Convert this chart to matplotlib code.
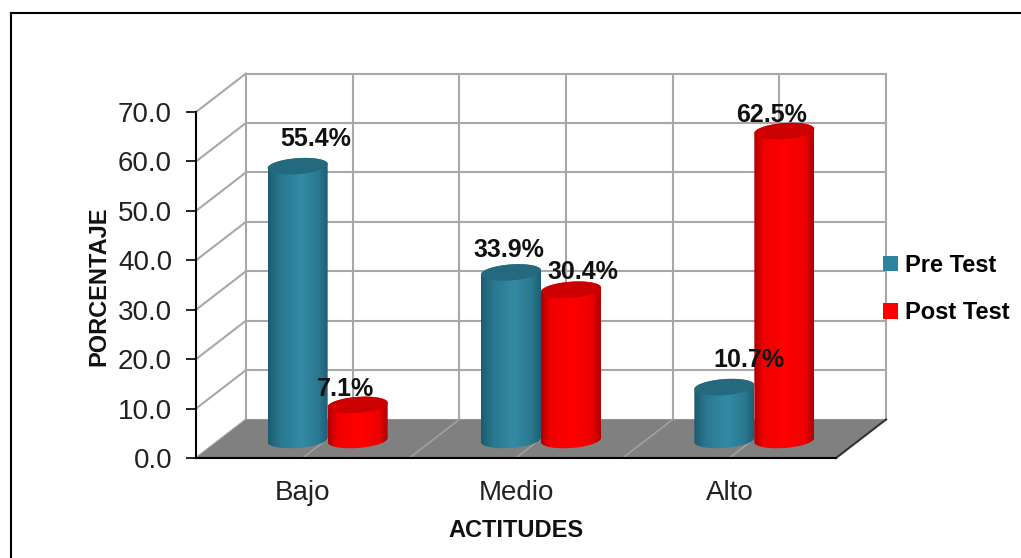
import numpy as np
import matplotlib
matplotlib.use("Agg")
import matplotlib.pyplot as plt
from matplotlib.colors import LinearSegmentedColormap
from matplotlib.lines import Line2D
from matplotlib.patches import Patch, Polygon

# data
categories = ["Bajo", "Medio", "Alto"]
pre_test = [55.4, 33.9, 10.7]
post_test = [7.1, 30.4, 62.5]
y_ticks = [0, 10, 20, 30, 40, 50, 60, 70]
series_names = ["Pre Test", "Post Test"]

plt.rcParams["font.family"] = ["Liberation Sans", "DejaVu Sans"]

W, H = 1021, 558
fig = plt.figure(figsize=(W / 100, H / 100), dpi=100, facecolor="white")

# axes = front plane of the fake 3d box (pixels from the reference)
L, R, T, B = 196, 836, 112, 458
ax = fig.add_axes([L / W, 1 - B / H, (R - L) / W, (B - T) / H])
ax.set_facecolor("none")
ax.set_xlim(0, 3)
ax.set_ylim(0, 70)

# pixel -> data
px_x = 3 / (R - L)
px_y = 70 / (B - T)
depth_x = 50 * px_x
depth_y = 38.5 * px_y

grid_col = "#A8A8A8"

# left wall and back wall
for v in y_ticks:
    ax.plot([0, depth_x], [v, v + depth_y], color=grid_col, lw=1.5, clip_on=False, zorder=1)
    ax.plot([depth_x, 3 + depth_x], [v + depth_y, v + depth_y], color=grid_col, lw=1.5, clip_on=False, zorder=1)
for i in range(7):
    x = i * 0.5 + depth_x
    ax.plot([x, x], [depth_y, 70 + depth_y], color=grid_col, lw=1.5, clip_on=False, zorder=1)

# floor
floor = Polygon([[0, 0], [3, 0], [3 + depth_x, depth_y], [depth_x, depth_y]],
                facecolor="#808080", edgecolor="none", clip_on=False, zorder=2)
ax.add_patch(floor)
for i in range(1, 6):
    x = i * 0.5
    ax.plot([x, x + depth_x], [0, depth_y], color="#A6A6A6", lw=1, clip_on=False, zorder=2)
ax.plot([3, 3 + depth_x], [0, depth_y], color="#333333", lw=1.5, clip_on=False, zorder=2)

teal_cmap = LinearSegmentedColormap.from_list(
    "teal", [(0, "#1C5C72"), (0.2, "#2A7890"), (0.55, "#348AA5"), (0.85, "#2A7890"), (1, "#1D6077")])
red_cmap = LinearSegmentedColormap.from_list(
    "red", [(0, "#B00000"), (0.15, "#F00000"), (0.5, "#FF0000"), (0.85, "#F00000"), (1, "#B00000")])
shade = np.linspace(0, 1, 64).reshape(1, -1)

half_w = 30 * px_x
half_h = 8 * px_y
tilt = 0.07
base_y = (458 - 440) * px_y


def ellipse(cx, cy, t):
    ex = half_w * np.cos(t)
    ey = half_h * np.sin(t) + tilt * (ex / px_x) * px_y
    return cx + ex, cy + ey


def cylinder(cx, value, cmap, top_col, z):
    top_y = base_y + value
    xb, yb = ellipse(cx, base_y, np.linspace(np.pi, 2 * np.pi, 40))
    xt, yt = ellipse(cx, top_y, np.linspace(0, np.pi, 40))
    body = Polygon(np.column_stack([np.r_[xb, xt], np.r_[yb, yt]]), transform=ax.transData,
                   facecolor="none", edgecolor="none")
    im = ax.imshow(shade, cmap=cmap, aspect="auto", zorder=z,
                   extent=[cx - half_w, cx + half_w, base_y - half_h * 2, top_y + half_h * 2])
    im.set_clip_path(body)
    xe, ye = ellipse(cx, top_y, np.linspace(0, 2 * np.pi, 80))
    ax.fill(xe, ye, color=top_col, lw=0, zorder=z + 0.1, clip_on=False)


# label offsets from the top of each cylinder, in pixels
pre_off = [(18, 27), (-2, 22), (25, 27)]
post_off = [(-12, 16), (12, 18), (-13, 16)]

for i, name in enumerate(categories):
    mid = i + 0.5 + depth_x / 2
    cx_pre = mid - 30 * px_x
    cx_post = mid + 30 * px_x
    cylinder(cx_pre, pre_test[i], teal_cmap, "#25697F", 3 + i)
    cylinder(cx_post, post_test[i], red_cmap, "#CC0000", 3.5 + i)
    for cx, val, off in [(cx_pre, pre_test[i], pre_off[i]), (cx_post, post_test[i], post_off[i])]:
        ax.annotate(f"{val:.1f}%", (cx, base_y + val), xytext=(off[0] * 0.72, off[1] * 0.72),
                    textcoords="offset points", ha="center", va="center",
                    fontsize=18, fontweight="bold", color="#111111", zorder=20, annotation_clip=False)

ax.set_xlim(0, 3)
ax.set_ylim(0, 70)

# axes, ticks
for side in ["top", "right"]:
    ax.spines[side].set_visible(False)
for side in ["left", "bottom"]:
    ax.spines[side].set_color("black")
    ax.spines[side].set_linewidth(1.5)
    ax.spines[side].set_zorder(15)

ax.set_yticks(y_ticks)
ax.set_yticklabels([f"{v:.1f}" for v in y_ticks], fontsize=20, color="#222222")
ax.tick_params(axis="y", length=7.2, width=1.2, pad=10)
ax.set_xticks([i + 0.5 for i in range(3)])
ax.set_xticklabels(categories, fontsize=20, color="#222222")
ax.tick_params(axis="x", length=0, pad=16)

ax.set_xlabel("ACTITUDES", fontsize=17, fontweight="bold", color="#111111", labelpad=9)
ax.set_ylabel("PORCENTAJE", fontsize=17, fontweight="bold", color="#111111")
ax.yaxis.set_label_coords((110 - L) / (R - L), (B - 286) / (B - T))

# legend
handles = [Patch(facecolor="#2F829C", edgecolor="none"), Patch(facecolor="#FF0000", edgecolor="none")]
fig.legend(handles, series_names, loc="center left", bbox_to_anchor=(883 / W, 1 - 289 / H),
           frameon=False, borderpad=0, borderaxespad=0,
           prop={"size": 17, "weight": "bold"},
           handlelength=0.64, handleheight=0.64, handletextpad=0.3, labelspacing=1.03)

# outer chart frame
fig.add_artist(Line2D([10.5 / W, 10.5 / W], [0, 1 - 13 / H], color="black", lw=1.5))
fig.add_artist(Line2D([10.5 / W, 1], [1 - 13 / H, 1 - 13 / H], color="black", lw=1.5))

fig.savefig("out.png", dpi=100)
